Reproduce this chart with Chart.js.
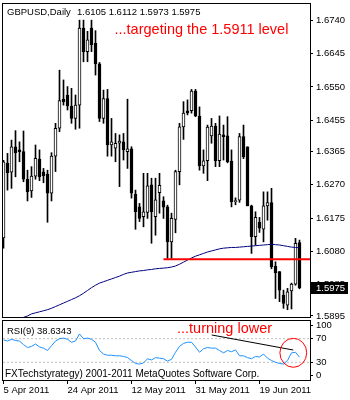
<!DOCTYPE html>
<html>
<head>
<meta charset="utf-8">
<script src="https://cdn.jsdelivr.net/npm/chart.js@4/dist/chart.umd.min.js"></script>
<style>
  html, body { margin: 0; padding: 0; background: #fff; }
  #wrap { position: relative; width: 350px; height: 400px; overflow: hidden; }
  canvas { position: absolute; left: 0; }
  #priceChart { top: 0; }
  #rsiChart { top: 318px; }
</style>
</head>
<body>
<div id="wrap">
  <canvas id="priceChart" width="350" height="320"></canvas>
  <canvas id="rsiChart" width="350" height="82"></canvas>
</div>
<script>
// ---- daily GBPUSD bars ----
const symbol = "GBPUSD,Daily";
const dateLabels = ["5 Apr 2011", "24 Apr 2011", "12 May 2011", "31 May 2011", "19 Jun 2011"];
const dateTickIdx = [0, 16, 32, 48, 64];

const openPx = [
  1.6118, 1.6332, 1.6306, 1.6379, 1.6370, 1.6365, 1.6286, 1.6253, 1.6295, 1.6344,
  1.6307, 1.6301, 1.6246, 1.6352, 1.6432, 1.6515, 1.6527, 1.6495, 1.6460, 1.6498,
  1.6718, 1.6651, 1.6718, 1.6675, 1.6616, 1.6460, 1.6517, 1.6384, 1.6375, 1.6389,
  1.6393, 1.6365, 1.6373, 1.6243, 1.6207, 1.6179, 1.6191, 1.6270, 1.6179, 1.6248,
  1.6224, 1.6207, 1.6107, 1.6171, 1.6308, 1.6436, 1.6482, 1.6482, 1.6538, 1.6467,
  1.6324, 1.6339, 1.6410, 1.6438, 1.6339, 1.6413, 1.6410, 1.6338, 1.6222, 1.6226,
  1.6408, 1.6379, 1.6210, 1.6122, 1.6163, 1.6143, 1.6210, 1.6219, 1.6038, 1.6022,
  1.5955, 1.5926, 1.5967, 1.5986, 1.6105
];
const highPx = [
  1.6340, 1.6360, 1.6398, 1.6425, 1.6393, 1.6424, 1.6312, 1.6322, 1.6384, 1.6370,
  1.6317, 1.6312, 1.6362, 1.6446, 1.6598, 1.6570, 1.6551, 1.6546, 1.6527, 1.6741,
  1.6741, 1.6709, 1.6741, 1.6711, 1.6620, 1.6541, 1.6543, 1.6460, 1.6417, 1.6413,
  1.6417, 1.6515, 1.6379, 1.6255, 1.6217, 1.6303, 1.6303, 1.6289, 1.6289, 1.6303,
  1.6236, 1.6212, 1.6189, 1.6312, 1.6446, 1.6508, 1.6513, 1.6543, 1.6543, 1.6493,
  1.6370, 1.6441, 1.6460, 1.6446, 1.6467, 1.6441, 1.6465, 1.6370, 1.6233, 1.6417,
  1.6441, 1.6379, 1.6212, 1.6193, 1.6177, 1.6250, 1.6250, 1.6260, 1.6050, 1.6022,
  1.5969, 1.5974, 1.5989, 1.6117, 1.6112
];
const lowPx = [
  1.6089, 1.6255, 1.6260, 1.6293, 1.6336, 1.6279, 1.6224, 1.6234, 1.6286, 1.6282,
  1.6276, 1.6163, 1.6224, 1.6308, 1.6422, 1.6498, 1.6484, 1.6446, 1.6429, 1.6432,
  1.6622, 1.6622, 1.6651, 1.6584, 1.6451, 1.6446, 1.6352, 1.6352, 1.6336, 1.6265,
  1.6341, 1.6317, 1.6232, 1.6143, 1.6165, 1.6150, 1.6174, 1.6103, 1.6126, 1.6189,
  1.6174, 1.6060, 1.6060, 1.6133, 1.6270, 1.6400, 1.6470, 1.6475, 1.6465, 1.6312,
  1.6303, 1.6282, 1.6389, 1.6322, 1.6322, 1.6341, 1.6333, 1.6207, 1.6213, 1.6220,
  1.6345, 1.6210, 1.6074, 1.6098, 1.6134, 1.6107, 1.6169, 1.6030, 1.5945, 1.5936,
  1.5917, 1.5913, 1.5915, 1.5983, 1.5973
];
const closePx = [
  1.6336, 1.6305, 1.6379, 1.6362, 1.6365, 1.6286, 1.6250, 1.6295, 1.6346, 1.6293,
  1.6296, 1.6246, 1.6352, 1.6432, 1.6511, 1.6508, 1.6496, 1.6460, 1.6498, 1.6718,
  1.6651, 1.6685, 1.6670, 1.6616, 1.6460, 1.6517, 1.6384, 1.6393, 1.6389, 1.6395,
  1.6370, 1.6373, 1.6246, 1.6193, 1.6174, 1.6193, 1.6267, 1.6193, 1.6227, 1.6269,
  1.6206, 1.6107, 1.6174, 1.6308, 1.6436, 1.6475, 1.6476, 1.6538, 1.6467, 1.6324,
  1.6339, 1.6435, 1.6438, 1.6339, 1.6415, 1.6408, 1.6336, 1.6222, 1.6225, 1.6408,
  1.6350, 1.6210, 1.6122, 1.6177, 1.6146, 1.6210, 1.6219, 1.6036, 1.6019, 1.5969,
  1.5931, 1.5964, 1.5986, 1.6103, 1.5975
];

// moving average, first visible value at bar maStart
const maStart = 4;
const maValues = [
  1.5888, 1.5891, 1.5895, 1.5901, 1.5904, 1.5907, 1.5910, 1.5913, 1.5917, 1.5922,
  1.5927, 1.5932, 1.5937, 1.5942, 1.5947, 1.5953, 1.5960, 1.5968, 1.5976, 1.5983,
  1.5989, 1.5993, 1.5997, 1.6001, 1.6005, 1.6009, 1.6014, 1.6018, 1.6020, 1.6022,
  1.6024, 1.6025, 1.6027, 1.6028, 1.6030, 1.6031, 1.6032, 1.6033, 1.6035, 1.6038,
  1.6043, 1.6049, 1.6055, 1.6061, 1.6066, 1.6070, 1.6074, 1.6078, 1.6081, 1.6084,
  1.6087, 1.6089, 1.6090, 1.6091, 1.6091, 1.6092, 1.6093, 1.6094, 1.6095, 1.6096,
  1.6097, 1.6098, 1.6099, 1.6100, 1.6099, 1.6098, 1.6096, 1.6094, 1.6092, 1.6091,
  1.6090
];

const supportLevel = 1.6057;
const supportFrom = 40;
const targetLevel = 1.5911;
const priceTicks = [1.6740, 1.6645, 1.6550, 1.6455, 1.6365, 1.6270, 1.6175, 1.6080, 1.5985, 1.5895];

// RSI(9)
const rsiValues = [
  68, 66, 69, 67, 66, 60, 55, 57, 61, 56,
  54, 50, 58, 66, 70, 71, 69, 64, 66, 78,
  70, 71, 69, 64, 50, 44, 42, 42, 41, 41,
  40, 38, 33, 28, 27, 29, 36, 34, 38, 37,
  36, 32, 35, 47, 57, 62, 64, 64, 56, 47,
  53, 55, 54, 54, 50, 46, 50, 48, 51, 41,
  41, 38, 36, 40, 39, 44, 37, 33, 30, 28,
  27, 33, 46, 47, 38.6343
];
const rsiLevels = [30, 70];
const rsiTicks = [100, 70, 30, 0];

const FONT = "'Liberation Sans', Arial, sans-serif";
const xMin = -0.125, xMax = 76.625;
const yMin = 1.589213, yMax = 1.678718;
const lastBar = closePx.length - 1;
const barIdx = closePx.map((c, i) => i);

function drawFrame(ctx, a) {
  ctx.strokeStyle = "#000";
  ctx.lineWidth = 1;
  ctx.strokeRect(a.left - 0.5, a.top - 0.5, a.right - a.left + 1, a.bottom - a.top + 1);
}

const priceDecor = {
  id: "priceDecor",
  afterDraw(chart) {
    const {ctx, chartArea: a, scales} = chart;
    ctx.save();
    drawFrame(ctx, a);
    ctx.fillStyle = "#000";
    ctx.font = "9.5px " + FONT;
    ctx.textBaseline = "alphabetic";
    ctx.fillText(symbol, 7, 15);
    const ohlc = [openPx[lastBar], highPx[lastBar], lowPx[lastBar], closePx[lastBar]];
    ctx.fillText(ohlc.map(v => v.toFixed(4)).join(" "), 77, 15);

    ctx.fillStyle = "#f00";
    ctx.font = "14.5px " + FONT;
    ctx.fillText("...targeting the " + targetLevel.toFixed(4) + " level", 114.5, 33.5);

    // last price marker on the axis
    const yl = Math.round(scales.y.getPixelForValue(closePx[lastBar]));
    ctx.fillStyle = "#000";
    ctx.fillRect(a.right + 1, yl - 6, 37, 12);
    ctx.fillStyle = "#fff";
    ctx.font = "9.5px " + FONT;
    ctx.textBaseline = "middle";
    ctx.fillText(closePx[lastBar].toFixed(4), a.right + 6, yl + 0.5);
    ctx.restore();
  }
};

const rsiDecor = {
  id: "rsiDecor",
  afterDraw(chart) {
    const {ctx, chartArea: a, scales} = chart;
    ctx.save();
    drawFrame(ctx, a);
    ctx.fillStyle = "#000";
    ctx.font = "9.5px " + FONT;
    ctx.fillText("RSI(9) " + rsiValues[lastBar].toFixed(4), 7, 16);
    ctx.font = "10px " + FONT;
    ctx.fillText("FXTechstyrategy) 2001-2011 MetaQuotes Software Corp.", 5, 58.7);

    ctx.fillStyle = "#f00";
    ctx.font = "14.5px " + FONT;
    ctx.fillText("...turning lower", 177, 15);

    const sx = scales.x, sy = scales.y;
    // pointer to the recent RSI turn
    ctx.strokeStyle = "#000";
    ctx.beginPath();
    ctx.moveTo(sx.getPixelForValue(52.05), sy.getPixelForValue(76.3));
    ctx.lineTo(sx.getPixelForValue(72.45), sy.getPixelForValue(50.8));
    ctx.stroke();

    ctx.strokeStyle = "#f00";
    ctx.beginPath();
    ctx.ellipse(sx.getPixelForValue(72.45), sy.getPixelForValue(46.1), 13.4, 14.5, 0, 0, Math.PI * 2);
    ctx.stroke();
    ctx.restore();
  }
};

const tickFont = {family: FONT, size: 9.5};

new Chart(document.getElementById("priceChart"), {
  type: "bar",
  data: {
    datasets: [
      { // wicks
        data: barIdx.map(i => ({x: i, y: [lowPx[i], highPx[i]]})),
        backgroundColor: "#000",
        borderWidth: 0,
        barThickness: 1,
        grouped: false,
        order: 3
      },
      { // bodies
        data: barIdx.map(i => ({x: i, y: [openPx[i], closePx[i]]})),
        backgroundColor: c => closePx[c.dataIndex] >= openPx[c.dataIndex] ? "#fff" : "#000",
        borderColor: "#000",
        borderWidth: 1,
        borderSkipped: false,
        barThickness: 3,
        minBarLength: 1,
        grouped: false,
        order: 2
      },
      {
        type: "line",
        data: maValues.map((v, k) => ({x: k + maStart, y: v})),
        borderColor: "#000080",
        borderWidth: 1,
        pointRadius: 0,
        tension: 0,
        order: 1
      },
      {
        type: "line",
        data: [{x: supportFrom, y: supportLevel}, {x: xMax, y: supportLevel}],
        borderColor: "#f00",
        borderWidth: 2,
        pointRadius: 0,
        order: 0
      }
    ]
  },
  options: {
    responsive: false,
    animation: false,
    devicePixelRatio: 1,
    events: [],
    layout: {padding: {left: 3, top: 4, right: 0, bottom: 3}},
    plugins: {legend: {display: false}, tooltip: {enabled: false}},
    scales: {
      x: {type: "linear", display: false, min: xMin, max: xMax, offset: false, bounds: "data"},
      y: {
        position: "right",
        min: yMin,
        max: yMax,
        bounds: "data",
        afterBuildTicks: s => { s.ticks = priceTicks.map(v => ({value: v})); },
        afterFit: s => { s.width = 40; s.paddingTop = 0; s.paddingBottom = 0; },
        ticks: {callback: v => v.toFixed(4), color: "#000", font: tickFont, padding: 3, autoSkip: false},
        grid: {drawOnChartArea: false, drawTicks: true, tickLength: 3, color: "#000"},
        border: {display: false}
      }
    }
  },
  plugins: [priceDecor]
});

new Chart(document.getElementById("rsiChart"), {
  type: "line",
  data: {
    datasets: [
      {
        data: rsiValues.map((v, i) => ({x: i, y: v})),
        borderColor: "#1E90FF",
        borderWidth: 1,
        pointRadius: 0,
        tension: 0,
        order: 0
      },
      ...rsiLevels.map(l => ({
        data: [{x: xMin, y: l}, {x: xMax, y: l}],
        borderColor: "#C0C0C0",
        borderWidth: 1,
        borderDash: [2, 2],
        pointRadius: 0,
        order: 1
      }))
    ]
  },
  options: {
    responsive: false,
    animation: false,
    devicePixelRatio: 1,
    events: [],
    layout: {padding: {left: 3, top: 3, right: 0, bottom: 0}},
    plugins: {legend: {display: false}, tooltip: {enabled: false}},
    scales: {
      x: {
        type: "linear",
        min: xMin,
        max: xMax,
        bounds: "data",
        afterBuildTicks: s => { s.ticks = dateTickIdx.map(v => ({value: v})); },
        afterFit: s => { s.height = 20; s.paddingLeft = 0; s.paddingRight = 0; },
        ticks: {callback: (v, i) => dateLabels[i], align: "start", maxRotation: 0, autoSkip: false,
                padding: 1, color: "#000", font: tickFont},
        grid: {drawOnChartArea: false, drawTicks: true, tickLength: 4, color: "#000"},
        border: {display: false}
      },
      y: {
        position: "right",
        min: 0,
        max: 100,
        bounds: "data",
        // the 0 and 100 labels sit just inside the panel edges
        afterBuildTicks: s => { s.ticks = rsiTicks.map(v => ({value: Math.min(Math.max(v, 8), 92)})); },
        afterFit: s => { s.width = 40; s.paddingTop = 0; s.paddingBottom = 0; },
        ticks: {callback: (v, i) => String(rsiTicks[i]), color: "#000", font: tickFont, padding: 3, autoSkip: false},
        grid: {drawOnChartArea: false, drawTicks: true, tickLength: 3, color: "#000"},
        border: {display: false}
      }
    }
  },
  plugins: [rsiDecor]
});
</script>
</body>
</html>
